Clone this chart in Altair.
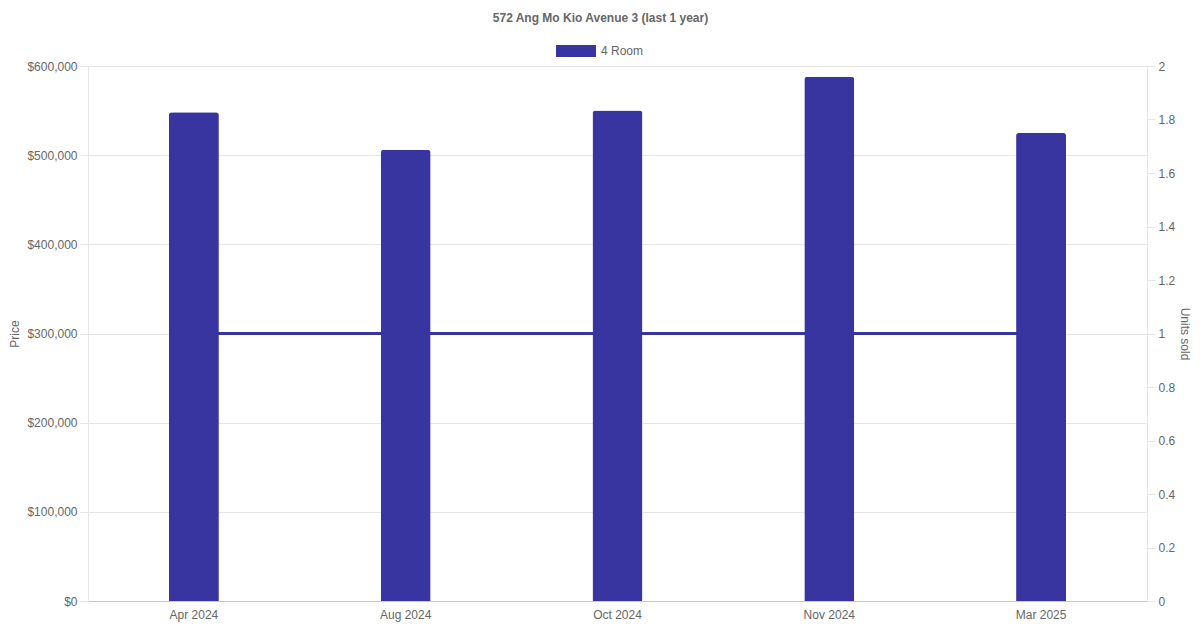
import altair as alt
import pandas as pd

months = ["Apr 2024", "Aug 2024", "Oct 2024", "Nov 2024", "Mar 2025"]
prices = [548000, 506000, 550000, 588000, 525000]
units = [1, 1, 1, 1, 1]
series = ["4 Room"] * 5

df = pd.DataFrame({"month": months, "price": prices, "units": units, "series": series})

COLOR = "#3835a0"
GRAY = "#666666"
FONT = "Liberation Sans"

x_enc = alt.X(
    "month:N",
    sort=months,
    scale=alt.Scale(paddingInner=0, paddingOuter=0),
    axis=alt.Axis(
        title=None, labelAngle=0, ticks=False, grid=False,
        domainColor="#c8c8c8", labelColor=GRAY, labelFontSize=12,
        labelFont=FONT, labelPadding=8,
    ),
)

line = alt.Chart(df).mark_line(color=COLOR, strokeWidth=3).encode(
    x=x_enc,
    y=alt.Y(
        "units:Q",
        scale=alt.Scale(domain=[0, 2], nice=False),
        axis=alt.Axis(
            orient="right", title="Units sold", titleAngle=90,
            values=[0, 0.2, 0.4, 0.6, 0.8, 1, 1.2, 1.4, 1.6, 1.8, 2],
            format="~g", grid=False, tickSize=8, tickColor="#e6e6e6",
            domainColor="#e6e6e6", labelColor=GRAY, labelFontSize=12,
            labelFont=FONT, labelPadding=3, titleColor=GRAY, titleFontSize=12,
            titleFont=FONT, titleFontWeight="normal", titlePadding=3,
        ),
    ),
)

bars = alt.Chart(df).mark_bar(
    size=50, cornerRadiusTopLeft=3, cornerRadiusTopRight=3
).encode(
    x=x_enc,
    y=alt.Y(
        "price:Q",
        scale=alt.Scale(domain=[0, 600000], nice=False),
        axis=alt.Axis(
            orient="left", title="Price",
            values=[0, 100000, 200000, 300000, 400000, 500000, 600000],
            format="$,.0f", grid=True, gridColor="#e6e6e6", tickSize=8,
            tickColor="#e6e6e6", domainColor="#e6e6e6", labelColor=GRAY,
            labelFontSize=12, labelFont=FONT, labelPadding=3, titleColor=GRAY,
            titleFontSize=12, titleFont=FONT, titleFontWeight="normal",
            titlePadding=5,
        ),
    ),
    color=alt.Color(
        "series:N",
        scale=alt.Scale(domain=["4 Room"], range=[COLOR]),
        legend=alt.Legend(
            title=None, orient="none", legendX=468, legendY=-35,
            symbolType="M-1,-0.3H1V0.3H-1Z", symbolSize=1600,
            symbolStrokeWidth=0, labelColor=GRAY, labelFontSize=12,
            labelFont=FONT, labelOffset=5, padding=0,
        ),
    ),
)

chart = alt.layer(line, bars).resolve_scale(y="independent").properties(
    width=1059,
    height=535,
    autosize=alt.AutoSizeParams(type="none"),
    padding={"left": 80, "top": 58, "right": 45, "bottom": 21},
    title=alt.TitleParams(
        "572 Ang Mo Kio Avenue 3 (last 1 year)",
        fontSize=12, fontWeight="bold", color=GRAY, font=FONT,
        offset=6, dx=-17,
    ),
).configure_view(stroke=None)

chart.save("out.html", embed_options={"renderer": "svg", "actions": False})
